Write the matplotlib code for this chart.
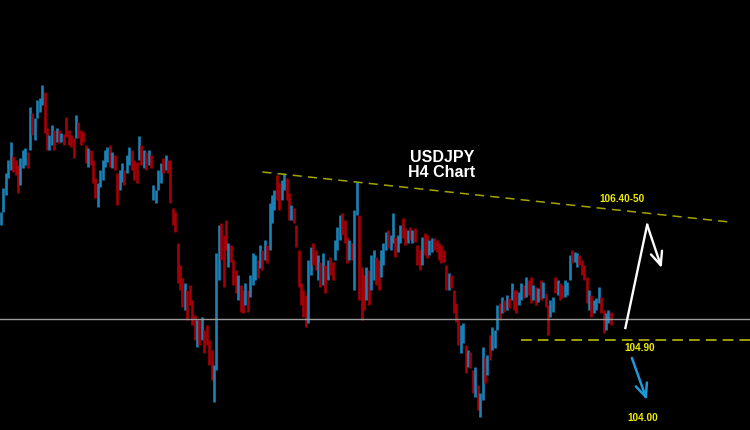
import matplotlib
matplotlib.use("Agg")
import matplotlib.pyplot as plt

# USDJPY H4 bars (high / low per bar, U = up bar, D = down bar)
highs = [
    106.50, 106.80, 106.99, 107.15, 107.38, 107.20, 107.15, 107.09, 107.18, 107.28,
    107.30, 107.25, 107.81, 107.74, 107.68, 107.90, 107.93, 108.09, 108.00, 107.55,
    107.46, 107.59, 107.53, 107.55, 107.53, 107.49, 107.48, 107.69, 107.53, 107.46,
    107.43, 107.71, 107.63, 107.53, 107.50, 107.34, 107.30, 107.28, 107.15, 106.93,
    106.86, 107.03, 107.15, 107.28, 107.31, 107.34, 107.25, 107.21, 106.99, 107.03,
    107.11, 107.03, 107.21, 107.31, 107.28, 107.15, 107.13, 107.45, 107.34, 107.28,
    107.25, 107.28, 107.21, 106.84, 106.78, 107.03, 107.11, 107.18, 107.21, 107.15,
    107.15, 106.55, 106.50, 106.11, 105.84, 105.68, 105.61, 105.53, 105.59, 105.40,
    105.21, 105.15, 105.15, 105.19, 105.03, 105.09, 104.90, 104.78, 104.59, 105.99,
    106.34, 106.36, 106.21, 106.40, 106.11, 106.09, 105.90, 105.78, 105.71, 105.59,
    105.53, 105.61, 105.53, 105.71, 105.99, 105.96, 105.90, 106.09, 106.03, 106.15,
    106.09, 106.61, 106.71, 106.78, 106.96, 106.86, 106.90, 106.99, 106.93, 106.74,
    106.59, 106.55, 106.34, 106.03, 105.61, 105.53, 105.46, 105.90, 106.06, 106.11,
    106.03, 105.96, 105.88, 105.99, 105.84, 105.90, 105.94, 105.88, 106.15, 106.31,
    106.46, 106.49, 106.40, 106.19, 106.15, 106.11, 106.53, 106.88, 106.46, 105.81,
    105.71, 105.81, 105.78, 105.96, 106.03, 105.94, 105.90, 106.03, 106.11, 106.25,
    106.28, 106.21, 106.49, 106.19, 106.21, 106.34, 106.43, 106.30, 106.28, 106.31,
    106.28, 106.30, 106.09, 106.03, 106.19, 106.24, 106.21, 106.15, 106.18, 106.18,
    106.15, 106.11, 106.09, 106.03, 105.84, 105.74, 105.71, 105.53, 105.36, 105.15,
    105.09, 105.11, 104.84, 104.78, 104.75, 104.53, 104.56, 104.34, 104.24, 104.81,
    104.69, 104.71, 104.96, 105.06, 105.03, 105.34, 105.36, 105.44, 105.40, 105.46,
    105.43, 105.61, 105.53, 105.53, 105.50, 105.61, 105.59, 105.69, 105.65, 105.69,
    105.59, 105.56, 105.55, 105.65, 105.63, 105.49, 105.34, 105.40, 105.44, 105.69,
    105.65, 105.61, 105.59, 105.65, 105.63, 105.96, 106.03, 106.00, 105.99, 105.96,
    105.90, 105.84, 105.69, 105.53, 105.46, 105.40, 105.43, 105.56, 105.44, 105.28,
    105.24, 105.28, 105.25,
]
lows = [
    106.34, 106.50, 106.71, 106.93, 107.03, 107.00, 106.96, 106.74, 106.84, 107.05,
    107.09, 107.05, 107.28, 107.46, 107.40, 107.68, 107.75, 107.84, 107.49, 107.28,
    107.28, 107.34, 107.28, 107.38, 107.36, 107.38, 107.34, 107.44, 107.34, 107.31,
    107.18, 107.43, 107.43, 107.34, 107.38, 107.11, 107.06, 107.09, 106.86, 106.68,
    106.56, 106.81, 106.90, 107.06, 107.13, 107.06, 107.05, 107.03, 106.59, 106.78,
    106.88, 106.84, 106.99, 107.09, 107.03, 106.90, 106.86, 107.15, 107.09, 107.05,
    107.03, 107.09, 107.05, 106.65, 106.61, 106.78, 106.86, 106.99, 107.03, 106.99,
    106.61, 106.34, 106.25, 105.61, 105.53, 105.31, 105.28, 105.15, 105.34, 105.09,
    104.90, 104.81, 104.84, 104.90, 104.74, 104.84, 104.59, 104.40, 104.13, 104.53,
    105.65, 105.90, 105.56, 106.03, 105.81, 105.88, 105.59, 105.49, 105.40, 105.25,
    105.24, 105.34, 105.25, 105.44, 105.59, 105.65, 105.68, 105.80, 105.78, 105.90,
    105.86, 106.03, 106.36, 106.53, 106.65, 106.53, 106.65, 106.78, 106.65, 106.40,
    106.40, 106.36, 106.06, 105.56, 105.34, 105.19, 105.06, 105.11, 105.71, 105.84,
    105.78, 105.65, 105.56, 105.59, 105.49, 105.65, 105.71, 105.65, 105.90, 106.03,
    106.15, 106.21, 106.11, 105.86, 105.90, 105.90, 105.53, 106.46, 105.40, 105.15,
    105.28, 105.40, 105.34, 105.53, 105.65, 105.59, 105.53, 105.69, 105.84, 106.03,
    106.05, 106.03, 106.11, 105.94, 106.00, 106.11, 106.18, 106.09, 106.11, 106.15,
    106.11, 106.13, 105.84, 105.78, 105.84, 105.96, 105.92, 105.96, 106.00, 106.03,
    106.00, 105.90, 105.86, 105.88, 105.53, 105.53, 105.55, 105.24, 105.13, 104.84,
    104.74, 104.86, 104.49, 104.56, 104.55, 104.24, 104.19, 104.03, 103.94, 104.15,
    104.36, 104.46, 104.65, 104.78, 104.80, 105.03, 105.15, 105.24, 105.25, 105.28,
    105.30, 105.40, 105.28, 105.24, 105.34, 105.40, 105.43, 105.44, 105.46, 105.36,
    105.40, 105.34, 105.38, 105.40, 105.43, 105.31, 104.96, 105.19, 105.25, 105.49,
    105.46, 105.40, 105.43, 105.44, 105.46, 105.65, 105.86, 105.88, 105.81, 105.84,
    105.71, 105.65, 105.36, 105.28, 105.19, 105.24, 105.28, 105.36, 105.24, 104.99,
    105.03, 105.11, 105.09,
]
direction = (
    "UUUUUDDDUU" "UDUDUUUUDD" "UUDUDUDDDD" "DUDDDDUDDD" "UUUUUDUDDU"
    "UDUUDDDUDU" "DUDUUUUDUD" "DDDDDDUDDD" "DUDUDDDDUU" "UDDDUDDDUD"
    "DUDUUUDUDU" "DUUUDDUUDD" "UDDDDDDUUD" "DUDUDUDDUU" "UDDDUDUUDD"
    "DUDUUDDUUU" "DUUDUUDDUD" "UDDDUDDUUD" "DDDDDUDDDD" "UUDUDDUDUU"
    "DUDUUUDUDU" "DUDDUUDUDD" "UDUDUDDUUD" "UDDUUUDUUD" "DDDUDUUUDD"
    "UUD"
)

trend_x = [108, 301]
trend_y = [107.00, 106.375]
mid_level = 105.16
support = 104.90
support_start = 215
up_path_x = [258, 267, 273]
up_path_y = [105.05, 106.34, 105.80]
down_path_x = [260.7, 266.9]
down_path_y = [104.675, 104.15]

blue = "#1a82b6"
red = "#a50008"
yellow = "#eeee00"

fig = plt.figure(figsize=(7.5, 4.3), dpi=100, facecolor="black")
ax = fig.add_axes([0, 0, 1, 1])
ax.set_facecolor("black")

for i, (h, l, d) in enumerate(zip(highs, lows, direction)):
    ax.vlines(i, l, h, color=blue if d == "U" else red, lw=1.9, capstyle="butt")

ax.axhline(mid_level, color="#9a9a9a", lw=1)
ax.plot([support_start, 320], [support, support], color="#c8c800", lw=1.1,
        dashes=(7, 4))
ax.plot(trend_x, trend_y, color="#a4a400", lw=1.1, dashes=(6, 4))

# expected path arrows
ax.plot(up_path_x[:2], up_path_y[:2], color="white", lw=1.7)
ax.annotate("", xy=(up_path_x[2], up_path_y[2]), xytext=(up_path_x[1], up_path_y[1]),
            arrowprops=dict(arrowstyle="->,head_length=0.8,head_width=0.35",
                            color="white", lw=1.7, mutation_scale=12,
                            shrinkA=0, shrinkB=0))
ax.annotate("", xy=(down_path_x[1], down_path_y[1]), xytext=(down_path_x[0], down_path_y[0]),
            arrowprops=dict(arrowstyle="->,head_length=0.8,head_width=0.35",
                            color="#1e9ad8", lw=1.8, mutation_scale=12,
                            shrinkA=0, shrinkB=0))

font = "Liberation Sans"
ax.text(182.2, 107.09, "USDJPY\nH4 Chart", color="white", fontsize=11.5,
        fontweight="bold", family=font, ha="center", va="center", linespacing=1.0)
ax.text(256.6, 106.66, "106.40-50", color=yellow, fontsize=7.2, fontweight="bold",
        family=font, ha="center", va="center")
ax.text(264.0, 104.80, "104.90", color=yellow, fontsize=7.2, fontweight="bold",
        family=font, ha="center", va="center")
ax.text(265.3, 103.925, "104.00", color=yellow, fontsize=7.2, fontweight="bold",
        family=font, ha="center", va="center")

ax.set_xlim(-0.41, 309.5)
ax.set_ylim(103.775, 109.15)
ax.axis("off")

fig.savefig("out.png", dpi=100, facecolor="black")
